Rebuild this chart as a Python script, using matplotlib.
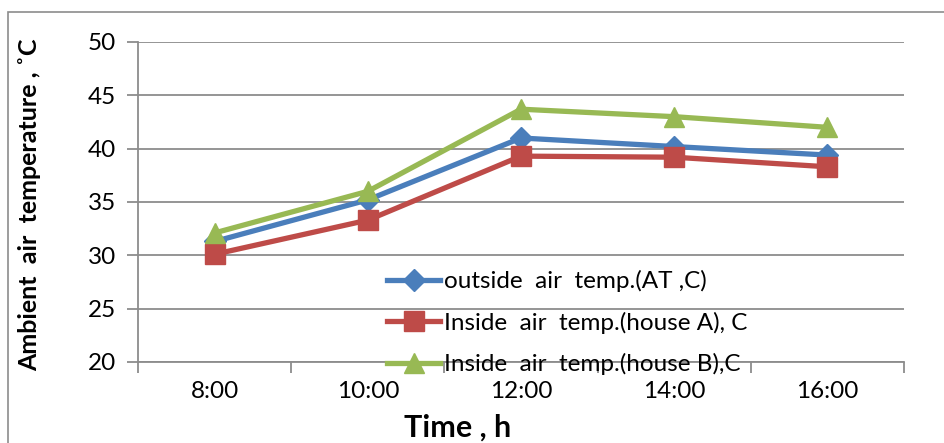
import matplotlib.pyplot as plt
from matplotlib.patches import Rectangle

plt.rcParams['font.family'] = ['Lato', 'DejaVu Sans']

times = ['8:00', '10:00', '12:00', '14:00', '16:00']
outside = [31.3, 35.2, 41.0, 40.2, 39.4]
house_a = [30.1, 33.3, 39.3, 39.2, 38.3]
house_b = [32.1, 36.0, 43.7, 43.0, 42.0]
labels = ['outside  air  temp.(AT ,C)',
          'Inside  air  temp.(house A), C',
          'Inside  air  temp.(house B),C']

fig = plt.figure(figsize=(9.44, 4.43), dpi=100)
ax = fig.add_axes([138/944, 1-362/443, (904-138)/944, 320/443])

# outer chart border
fig.patches.append(Rectangle((8/944, -0.5), 2, 1.5 - 12/443, transform=fig.transFigure,
                             fill=False, edgecolor='#8c8c8c', linewidth=1.2))

x = range(len(times))
ax.plot(x, outside, color='#4a7ebb', lw=3.8, marker='D', ms=11, label=labels[0], zorder=3)
ax.plot(x, house_a, color='#be4b48', lw=3.8, marker='s', ms=14, label=labels[1], zorder=3)
ax.plot(x, house_b, color='#98b954', lw=3.8, marker='^', ms=15, label=labels[2], zorder=3)

ax.set_xlim(-0.5, len(times) - 0.5)
ax.set_ylim(20, 50)
ax.set_yticks(range(20, 51, 5))
ax.set_xticks(x)
ax.set_xticklabels(times)
ax.set_xticks([i - 0.5 for i in range(len(times) + 1)], minor=True)
ax.grid(axis='y', color='#8c8c8c', lw=1.3)
ax.set_axisbelow(True)
for s in ['top', 'right']:
    ax.spines[s].set_visible(False)
for s in ['left', 'bottom']:
    ax.spines[s].set_color('#8c8c8c')
    ax.spines[s].set_linewidth(1.3)
ax.tick_params(axis='y', length=8, color='#8c8c8c', width=1.3, labelsize=17.5, pad=8)
ax.tick_params(axis='x', which='major', length=0, labelsize=17.5, pad=14)
ax.tick_params(axis='x', which='minor', length=8, color='#8c8c8c', width=1.3)

ax.set_xlabel('Time , h', fontsize=22, fontweight='bold')
ax.xaxis.set_label_coords((458-138)/766, -(428-362)/320)
ax.xaxis.label.set_va('center')
ax.set_ylabel('Ambient  air  temperature , ˚C', fontsize=18, fontweight='bold')
ax.yaxis.set_label_coords((30-138)/766, 0.49)
ax.yaxis.label.set_va('center')

ax.legend(loc='upper left', bbox_to_anchor=(387/944, 1-270/443), bbox_transform=fig.transFigure,
          frameon=False, fontsize=17.5, handlelength=2.2, handletextpad=0.15,
          labelspacing=0.8, borderpad=0, borderaxespad=0)

plt.savefig('out.png', dpi=100)
